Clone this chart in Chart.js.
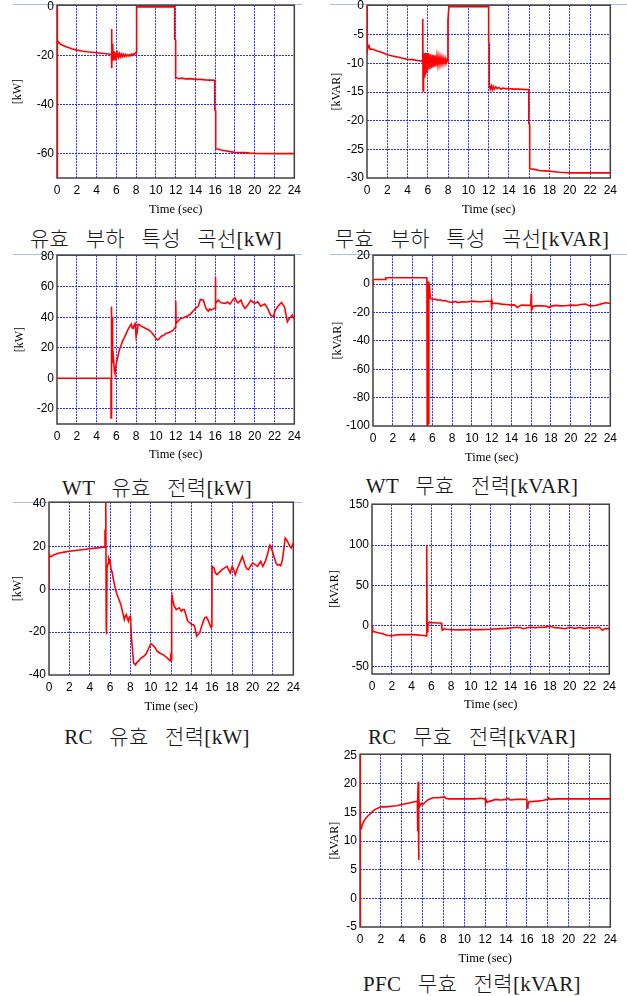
<!DOCTYPE html>
<html><head><meta charset="utf-8">
<script src="https://cdn.jsdelivr.net/npm/chart.js@4.4.1/dist/chart.umd.min.js"></script>
<style>
html,body{margin:0;padding:0;background:#fff;}
body{width:627px;height:996px;overflow:hidden;position:relative;}
canvas{position:absolute;}
.cap{position:absolute;transform:translate(-50%,-50%);white-space:pre;font-family:"Liberation Serif","Noto Sans CJK KR",serif;font-size:21px;font-weight:300;color:#1a1a1a;word-spacing:11px;letter-spacing:0.3px;}
.sep{position:absolute;height:1px;background:#a9bfe6;}
</style></head><body>
<script>
// ---------------- data ----------------
const xTicks = [0,2,4,6,8,10,12,14,16,18,20,22,24];

const captions = ["유효 부하 특성 곡선[kW]","무효 부하 특성 곡선[kVAR]","WT 유효 전력[kW]","WT 무효 전력[kVAR]","RC 유효 전력[kW]","RC 무효 전력[kVAR]","PFC 무효 전력[kVAR]"];
const yUnits = ["[kW]","[kVAR]","[kW]","[kVAR]","[kW]","[kVAR]","[kVAR]"];
const xTitle = "Time (sec)";

const loadPTicks = [0,-20,-40,-60];
const loadQTicks = [0,-5,-10,-15,-20,-25,-30];
const wtPTicks = [80,60,40,20,0,-20];
const wtQTicks = [20,0,-20,-40,-60,-80,-100];
const rcPTicks = [40,20,0,-20,-40];
const rcQTicks = [150,100,50,0,-50];
const pfcQTicks = [25,20,15,10,5,0,-5];

const loadPRange = [-70,0.8];
const loadQRange = [-30,0.15];
const wtPRange = [-30,80.7];
const wtQRange = [-100,20.4];
const rcPRange = [-40,40.6];
const rcQRange = [-59.4,150.5];
const pfcQRange = [-5,25.2];

// [time(sec), value]
const loadP = [[0,0.5],[0,-70],[0.02,-14.5],[0.1,-13.8],[0.3,-15],[0.6,-15.7],[1,-16.3],[1.5,-17],[2,-17.6],[2.5,-18],[3,-18.3],[3.5,-18.5],[4,-18.7],[4.5,-18.9],[5,-19.1],[5.4,-19.3],[5.5,-19.4],[5.52,-9],[5.55,-25],[5.58,-15],[5.62,-22],[5.66,-17],[5.7,-21],[5.75,-18],[5.8,-21.5],[5.85,-18.5],[5.9,-20.8],[5.95,-18.5],[6.0,-20.5],[6.1,-18.8],[6.2,-20.6],[6.3,-19],[6.4,-20.4],[6.5,-19.2],[6.6,-20.3],[6.7,-19.3],[6.8,-20.2],[6.9,-19.4],[7.0,-20.1],[7.1,-19.5],[7.2,-20],[7.3,-19.5],[7.4,-20],[7.5,-19.3],[7.6,-19.8],[7.7,-19.2],[7.8,-19.5],[7.9,-19],[8.0,-18.5],[8.02,-5.5],[8.08,0.2],[8.15,0.1],[9,0.1],[10,0.1],[11,0.1],[11.9,0.1],[11.9,-13],[12.0,-13.5],[12.0,-28.8],[12.3,-29.3],[12.6,-29.1],[13,-29.4],[13.5,-29.3],[14,-29.6],[14.5,-29.6],[15,-29.8],[15.5,-29.9],[15.95,-30],[15.95,-42],[16.05,-42.5],[16.05,-58],[16.3,-58.2],[16.6,-58.5],[17,-58.8],[17.5,-59.2],[18,-59.5],[18.5,-59.6],[19,-59.6],[19.5,-59.8],[20,-59.9],[22,-60],[24,-60]];

const loadQ = [[0,0.1],[0,-8.3],[0.05,-6.8],[0.1,-7.3],[0.2,-6.9],[0.3,-7.6],[0.5,-7.5],[1,-7.85],[1.5,-8.1],[2,-8.5],[2.5,-8.7],[3,-8.9],[3.5,-9.1],[4,-9.3],[4.5,-9.35],[5,-9.5],[5.45,-9.6],[5.5,-2.2],[5.53,-14.8],[5.56,-8.5],[5.6,-12.8],[5.65,-8.3],[5.7,-12.5],[5.75,-8.2],[5.8,-12],[5.85,-8.3],[5.9,-11.6],[5.95,-8.2],[6.0,-11.2],[6.1,-8.3],[6.2,-11],[6.3,-8.4],[6.4,-10.8],[6.5,-8.5],[6.6,-10.6],[6.7,-8.6],[6.8,-10.5],[6.9,-8.7],[7.0,-10.3],[7.1,-8.8],[7.2,-10.2],[7.3,-8.9],[7.4,-10.1],[7.5,-9.0],[7.6,-10],[7.7,-9.1],[7.8,-10],[7.9,-9.3],[7.98,-9.6],[7.98,-2.5],[8.08,-0.1],[12,-0.1],[12,-6.3],[12.05,-6.5],[12.05,-13.8],[12.15,-14.5],[12.25,-13.9],[12.35,-14.6],[12.45,-14],[12.55,-14.5],[12.7,-14.1],[12.85,-14.4],[13,-14.2],[13.2,-14.5],[13.4,-14.3],[13.6,-14.4],[14,-14.4],[14.5,-14.5],[15,-14.5],[15.96,-14.6],[15.96,-20.5],[16.05,-20.7],[16.05,-28.4],[16.5,-28.5],[17,-28.7],[17.5,-28.75],[18,-28.8],[18.5,-28.9],[19,-29],[19.5,-29.05],[20,-29.1],[22,-29.1],[24,-29.1]];

const wtP = [[0,0],[5.46,0],[5.46,-26],[5.5,-26],[5.5,47],[5.52,47],[5.52,40],[5.6,40],[5.62,10],[5.7,14],[5.8,5],[5.86,3.3],[6,9.8],[6.15,14],[6.3,18.5],[6.45,21],[6.6,24],[6.8,26.5],[7,29.4],[7.15,31.5],[7.3,33.4],[7.5,35.5],[7.6,33],[7.7,32.7],[7.8,35],[7.9,35.8],[8.0,27.3],[8.1,30],[8.2,35.5],[8.35,35],[8.5,34.2],[8.75,33.5],[9,32.5],[9.25,31.8],[9.5,30.5],[9.75,28.5],[10,26.2],[10.15,25.2],[10.3,25.5],[10.45,26.8],[10.6,27.7],[10.8,28.2],[11,29.4],[11.25,29.8],[11.5,30.5],[11.75,31.5],[11.95,33.2],[12.0,33.2],[12.02,50.8],[12.04,36],[12.2,37.1],[12.5,39.3],[12.75,39.5],[13,40.3],[13.25,41],[13.5,42.1],[13.75,44],[14,45.8],[14.3,47.3],[14.5,51.7],[14.8,51.2],[15,46.9],[15.15,45],[15.3,44],[15.45,45.5],[15.6,44.7],[15.9,45.8],[16.0,46],[16.02,66.1],[16.05,49.1],[16.3,51.2],[16.6,49.5],[17,49.1],[17.25,50],[17.5,48.6],[17.8,51.7],[18,52.8],[18.15,50.5],[18.3,49.5],[18.6,51.2],[18.8,48],[19,45.8],[19.3,48],[19.6,51.2],[19.8,50],[20,49.1],[20.3,50.2],[20.6,47.3],[21,48.6],[21.3,45.8],[21.6,41.4],[21.9,40.3],[22,43.6],[22.3,46.9],[22.7,49.7],[23,46.9],[23.15,42],[23.3,37.1],[23.5,39.3],[23.8,41.4],[24,38.6]];

const wtQ = [[0,0],[0.02,3.3],[1.3,3.3],[1.3,4.5],[5.45,4.5],[5.48,-99.5],[5.52,2],[5.55,-99.5],[5.6,-98],[5.65,1.6],[5.72,-3],[5.8,-10],[6,-10.8],[6.3,-10.5],[6.5,-11.3],[6.8,-11],[7,-11.7],[7.3,-11.5],[7.6,-12.4],[8,-12.9],[8.3,-12.2],[8.6,-13],[9,-12.4],[9.5,-12.6],[10,-12],[10.5,-12.3],[11,-12.4],[11.5,-12.1],[11.95,-12],[12.0,-17.8],[12.03,-11.5],[12.1,-13.6],[12.5,-13.5],[13,-14.1],[13.5,-14.3],[14,-14.8],[14.3,-14.6],[14.6,-16.4],[14.8,-15.5],[15,-14.8],[15.5,-15],[15.95,-15],[16.0,-6.6],[16.03,-18.3],[16.2,-15.5],[16.6,-15.3],[17,-15.3],[17.5,-15.4],[17.8,-16.5],[18,-15.5],[18.5,-15],[19,-15.3],[19.5,-15.2],[20,-14.8],[20.5,-15],[21,-14.3],[21.5,-14],[21.8,-15],[22,-15.3],[22.5,-15.1],[23,-14.1],[23.5,-13.1],[24,-13.6]];

const rcP = [[0,0],[0,16.9],[0.1,15],[0.2,15.3],[0.5,16.1],[1,16.9],[1.5,17.3],[2,17.7],[3,18.3],[4,18.9],[5,19.4],[5.5,19.7],[5.5,27.8],[5.55,25],[5.58,40.6],[5.62,-17],[5.65,-21],[5.7,10],[5.8,12],[5.86,14.6],[5.95,13.5],[6.0,13],[6.1,9.1],[6.2,8],[6.35,4],[6.5,0.6],[6.65,-2],[6.8,-4],[7,-6.4],[7.1,-8],[7.2,-10.2],[7.3,-12],[7.4,-14.1],[7.5,-12.5],[7.6,-11.8],[7.7,-13.5],[7.8,-14.9],[7.9,-13],[8,-12.6],[8.1,-22.6],[8.2,-28],[8.3,-34.3],[8.5,-35.3],[8.65,-34],[8.8,-33.5],[9,-32.2],[9.25,-31.5],[9.5,-30.4],[9.75,-28],[10,-25.4],[10.15,-26],[10.3,-26.5],[10.45,-27.5],[10.6,-28.8],[10.8,-29.5],[11,-30.1],[11.25,-30.6],[11.5,-31.6],[11.7,-32.5],[11.9,-33.5],[11.95,-32],[12.0,-33],[12.05,-5],[12.1,-3.3],[12.2,-6],[12.3,-7.9],[12.5,-9.5],[12.65,-9],[12.8,-8.7],[13,-10.2],[13.15,-9.5],[13.3,-9.5],[13.45,-12],[13.6,-14.6],[13.8,-15.5],[14,-16.4],[14.15,-16.5],[14.3,-17.2],[14.5,-21.9],[14.65,-21],[14.8,-20.3],[15,-17.2],[15.15,-15],[15.3,-13.3],[15.45,-13],[15.6,-14.1],[15.75,-16],[15.9,-17.8],[16.0,-17.5],[16.02,10.7],[16.2,9.9],[16.35,7.5],[16.5,6.8],[16.75,8],[17,9.1],[17.25,10],[17.5,10.7],[17.65,9],[17.8,7.6],[18,10.7],[18.15,9],[18.3,6.8],[18.45,9],[18.6,10.7],[18.8,13],[19,15.3],[19.15,13],[19.3,10.7],[19.45,9.5],[19.6,9.1],[19.8,11],[20,12.2],[20.25,11.5],[20.5,10.7],[20.65,12],[20.8,13],[21,10.7],[21.25,13],[21.5,16.9],[21.6,19],[21.7,20.5],[21.85,19],[22,16.9],[22.15,14.5],[22.3,12.2],[22.45,11.3],[22.6,11.5],[22.75,11],[22.9,13],[23.05,18],[23.2,23.9],[23.35,23],[23.5,21.6],[23.65,20],[23.8,19.2],[23.9,20.5],[24,21.6]];

const rcQ = [[0,0],[0.05,-7.4],[0.2,-7],[0.5,-8.2],[1,-9.4],[1.5,-11.5],[2,-12.3],[2.2,-11.5],[2.5,-11],[3,-10.7],[4,-10.7],[4.5,-11],[5,-11.5],[5.5,-12.3],[5.52,100],[5.55,98],[5.58,-7],[5.65,0],[5.7,2.9],[5.8,4.9],[6,3.7],[6.3,4.2],[6.5,3.8],[7,3.7],[7.05,-1],[7.1,-5.3],[7.3,-3.5],[7.5,-4.1],[8,-4.5],[9,-4.9],[10,-4.5],[11,-4.5],[12,-4.1],[13,-3.3],[13.5,-3],[14,-2.5],[14.5,-2],[15,-2],[15.3,-3.5],[15.6,-2.5],[16,-1.6],[16.5,-2.2],[17,-1.6],[17.5,-1.5],[18,-0.4],[18.5,-2.1],[19,-2.5],[19.5,-3.5],[20,-1.6],[20.5,-3],[21,-2],[21.5,-3.3],[22,-2],[22.5,-2.5],[23,-1.6],[23.3,-5.3],[23.6,-3.3],[24,-3.3]];

const pfcQ = [[0,-5],[0,25.2],[0.02,12.2],[0.08,12.6],[0.15,12.3],[0.2,12.8],[0.35,13.4],[0.5,13.9],[0.75,14.4],[1,14.8],[1.25,15.3],[1.5,15.6],[1.75,15.8],[2,16],[2.5,16],[3,16.1],[3.5,16.2],[4,16.4],[4.5,16.6],[5,16.8],[5.5,17],[5.52,11.7],[5.55,17.5],[5.58,20.4],[5.62,6.7],[5.65,17.5],[5.7,16],[5.8,16.4],[5.9,16.6],[6,16.4],[6.25,16.8],[6.5,17.2],[6.75,17.4],[7,17.6],[7.5,17.6],[8,17.7],[8.1,17.8],[8.2,17.5],[8.5,17.4],[9,17.4],[10,17.4],[11,17.4],[11.5,17.5],[12,17.4],[12.05,16.8],[12.1,17.2],[12.2,16.8],[12.5,17],[13,17.3],[13.5,17.2],[14,17.3],[14.2,17.5],[14.4,17.2],[15,17.3],[16,17.3],[16.02,15.8],[16.1,16.3],[16.2,16.9],[17,17.0],[17.5,17.1],[18,17.3],[18.05,17.6],[18.2,17.3],[19,17.4],[20,17.4],[22,17.4],[24,17.4]];

// ---------------- layout ----------------
const panels = [
  {series: loadP, ticks: loadPTicks, range: loadPRange, box:[57,5,296,178], tx:18, xt:209},
  {series: loadQ, ticks: loadQTicks, range: loadQRange, box:[367,5,612,178], tx:337, xt:209},
  {series: wtP,   ticks: wtPTicks,   range: wtPRange,   box:[57,255,296,424], tx:20, xt:454},
  {series: wtQ,   ticks: wtQTicks,   range: wtQRange,   box:[373,255,612,426], tx:338, xt:457},
  {series: rcP,   ticks: rcPTicks,   range: rcPRange,   box:[49,502,295,675], tx:18, xt:706},
  {series: rcQ,   ticks: rcQTicks,   range: rcQRange,   box:[372,504,611,674], tx:335, xt:704},
  {series: pfcQ,  ticks: pfcQTicks,  range: pfcQRange,  box:[360,754,612,927], tx:335, xt:958}
];
const capPos = [[156,237],[472,237],[157,486],[472,484],[157,735],[472,735],[472,982]];
const seps = [[13,4,302],[330,4,627],[13,254,302],[330,254,627],[13,502,302]];

seps.forEach(([x1,y,x2])=>{
  const d=document.createElement('div'); d.className='sep';
  d.style.left=x1+'px'; d.style.top=y+'px'; d.style.width=(x2-x1)+'px';
  document.body.appendChild(d);
});
captions.forEach((c,i)=>{
  const d=document.createElement('div'); d.className='cap'; d.textContent=c;
  d.style.left=capPos[i][0]+'px'; d.style.top=capPos[i][1]+'px';
  document.body.appendChild(d);
});

const frame = {
  id:'frame',
  beforeDatasetsDraw(chart){
    const a=chart.chartArea, ctx=chart.ctx;
    ctx.save(); ctx.strokeStyle='#404040'; ctx.lineWidth=1.5;
    ctx.strokeRect(a.left,a.top,a.right-a.left,a.bottom-a.top); ctx.restore();
  }
};

const YT_SIZE=12, XT_SIZE=12.5, PADT=10, PADR=10;
panels.forEach((p,i)=>{
  const [L,T,R,B]=p.box;
  const cl = Math.round(p.tx - YT_SIZE*1.2/2);
  const ct = T - PADT;
  const cw = R + PADR - cl;
  const bottomEdge = Math.round(p.xt + XT_SIZE*1.2/2);
  const ch = bottomEdge - ct;
  const yw = L - cl, xh = bottomEdge - B;
  const cv=document.createElement('canvas');
  cv.width=cw; cv.height=ch;
  cv.style.left=cl+'px'; cv.style.top=ct+'px'; cv.style.width=cw+'px'; cv.style.height=ch+'px';
  document.body.appendChild(cv);
  const [ymin,ymax]=p.range;
  const span=ymax-ymin;
  new Chart(cv,{
    type:'line',
    data:{datasets:[{data:p.series.map(([x,y])=>({x,y})),borderColor:'#ff0000',borderWidth:1.6,pointRadius:0,tension:0,fill:false}]},
    options:{
      responsive:false, animation:false, devicePixelRatio:1, events:[],
      layout:{padding:{top:PADT,right:PADR,left:0,bottom:0}},
      plugins:{legend:{display:false},tooltip:{enabled:false}},
      scales:{
        x:{type:'linear',min:0,max:24,
          afterBuildTicks:s=>{s.ticks=xTicks.map(v=>({value:v}));},
          afterFit:s=>{s.height=xh;},
          ticks:{autoSkip:false,maxRotation:0,padding:5,color:'#000',font:{family:'Liberation Sans',size:12},callback:v=>String(v)},
          grid:{drawTicks:false,lineWidth:1,color:c=>(c.tick&&(c.tick.value<=0||c.tick.value>=24))?'rgba(0,0,0,0)':'#2b2bff'},
          border:{display:false,dash:[2,1]},
          title:{display:true,text:xTitle,padding:0,color:'#000',font:{family:'Liberation Serif',size:XT_SIZE}}
        },
        y:{type:'linear',min:ymin,max:ymax,
          afterBuildTicks:s=>{s.ticks=p.ticks.map(v=>({value:v}));},
          afterFit:s=>{s.width=yw;},
          ticks:{autoSkip:false,padding:3,color:'#000',font:{family:'Liberation Sans',size:12},callback:v=>String(v)},
          grid:{drawTicks:false,lineWidth:1,color:c=>(c.tick&&(Math.abs(c.tick.value-ymin)<0.02*span||Math.abs(c.tick.value-ymax)<0.02*span))?'rgba(0,0,0,0)':'#2b2bff'},
          border:{display:false,dash:[2,1]},
          title:{display:true,text:yUnits[i],padding:0,color:'#000',font:{family:'Liberation Serif',size:YT_SIZE}}
        }
      }
    },
    plugins:[frame]
  });
});
</script>
</body></html>
